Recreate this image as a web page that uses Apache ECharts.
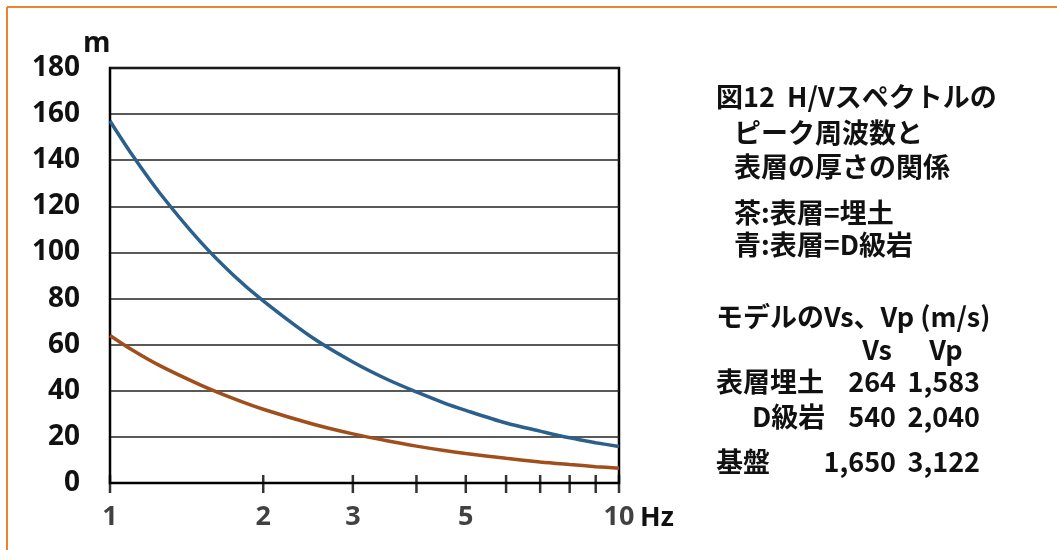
<!DOCTYPE html>
<html>
<head>
<meta charset="utf-8">
<script src="https://cdn.jsdelivr.net/npm/echarts@6/dist/echarts.min.js"></script>
<style>
  html, body { margin: 0; padding: 0; background: #fff; }
  #chart { width: 1057px; height: 550px; }
</style>
</head>
<body>
<div id="chart"></div>
<script>
// Peak frequency (Hz) vs. surface-layer thickness (m)
const freqs      = [1, 1.1, 1.25, 1.5, 1.75, 2, 2.5, 3, 3.5, 4, 4.5, 5, 6, 7, 8, 9, 10];
const dClassRock = [157, 143, 126, 105, 90, 79, 63, 52.5, 45, 39.5, 35, 31.5, 26, 22.5, 19.6, 17.5, 15.8]; // blue
const fillSoil   = [64, 58, 51, 42.7, 36.6, 32, 25.6, 21.3, 18.3, 16, 14.2, 12.8, 10.7, 9.1, 8, 7.1, 6.4]; // brown

const tickFreqs  = [1, 2, 3, 4, 5, 6, 7, 8, 9, 10];
const tickLabels = ['1', '2', '3', '', '5', '', '', '', '', '10'];
const yTicks     = [0, 20, 40, 60, 80, 100, 120, 140, 160, 180];

const velRows = [
  ['表層埋土', '264', '1,583'],
  ['D級岩', '540', '2,040'],
  ['基盤', '1,650', '3,122']
];

const NUM_FONT = '"Open Sans", "Noto Sans", sans-serif';
const JP_FONT = '"Noto Sans CJK JP", sans-serif';

const chart = echarts.init(document.getElementById('chart'));

const pairs = (ys) => freqs.map((f, i) => [f, ys[i]]);

const textEl = (text, x, y, opts = {}) => ({
  type: 'text',
  x: x, y: y,
  style: Object.assign({
    text: text,
    font: 'bold 27px ' + JP_FONT,
    fill: '#111',
    textAlign: 'left',
    textVerticalAlign: 'middle'
  }, opts)
});

const graphics = [
  // frame lines
  { type: 'line', shape: { x1: 7, y1: 7, x2: 1057, y2: 7 }, style: { stroke: '#f0822e', lineWidth: 2 } },
  { type: 'line', shape: { x1: 7, y1: 7, x2: 7, y2: 550 }, style: { stroke: '#f0822e', lineWidth: 2 } },
  textEl('m', 83, 44, { font: 'bold 28px ' + NUM_FONT }),
  textEl('Hz', 640, 518, { font: 'bold 27px ' + NUM_FONT }),
  textEl('図12  H/Vスペクトルの', 716, 97),
  textEl('ピーク周波数と', 734, 133),
  textEl('表層の厚さの関係', 734, 167),
  textEl('茶:表層=埋土', 734, 213),
  textEl('青:表層=D級岩', 734, 245),
  textEl('モデルのVs、Vp (m/s)', 716, 317),
  textEl('Vs', 877, 350, { textAlign: 'center' }),
  textEl('Vp', 946, 350, { textAlign: 'center' })
];
const rowY = [382, 417, 462];
velRows.forEach((r, i) => {
  graphics.push(textEl(r[0], i === 1 ? 752 : 716, rowY[i]));
  graphics.push(textEl(r[1], 896, rowY[i], { textAlign: 'right' }));
  graphics.push(textEl(r[2], 980, rowY[i], { textAlign: 'right' }));
});

chart.setOption({
  animation: false,
  backgroundColor: '#fff',
  grid: {
    left: 110, top: 68, right: 438, bottom: 67,
    show: true, borderColor: '#000', borderWidth: 2.5, backgroundColor: 'transparent'
  },
  xAxis: {
    type: 'log', logBase: 10, min: 1, max: 10,
    axisLine: { show: true, onZero: false, lineStyle: { color: '#000', width: 2 } },
    axisTick: { show: false },
    axisLabel: { show: false },
    splitLine: { show: false },
    minorTick: { show: false },
    minorSplitLine: { show: false }
  },
  yAxis: {
    type: 'value', min: 0, max: 180, interval: 20,
    axisLine: { show: true, lineStyle: { color: '#000', width: 2 } },
    axisTick: { show: false },
    axisLabel: {
      margin: 30,
      color: '#111',
      fontFamily: NUM_FONT,
      fontWeight: 'bold',
      fontSize: 28,
      formatter: (v) => yTicks.includes(v) ? String(v) : ''
    },
    splitLine: { show: true, lineStyle: { color: '#222', width: 1.5 } }
  },
  series: [
    {
      name: 'D級岩',
      type: 'line',
      data: pairs(dClassRock),
      smooth: 0.3,
      showSymbol: false,
      lineStyle: { color: '#2b5f8c', width: 3.5 },
      z: 3
    },
    {
      name: '埋土',
      type: 'line',
      data: pairs(fillSoil),
      smooth: 0.3,
      showSymbol: false,
      lineStyle: { color: '#a04f1c', width: 3.5 },
      z: 3
    },
    {
      // cross-shaped tick marks and frequency labels along the x axis
      type: 'scatter',
      data: tickFreqs.map((f) => [f, 0]),
      symbol: 'rect',
      symbolSize: [2.5, 18],
      symbolOffset: [0, 1],
      itemStyle: { color: '#000' },
      clip: false,
      silent: true,
      z: 4,
      label: {
        show: true,
        position: 'bottom',
        distance: 11,
        color: '#111',
        fontFamily: NUM_FONT,
        fontWeight: 'bold',
        fontSize: 27,
        formatter: (p) => tickLabels[p.dataIndex]
      }
    }
  ],
  graphic: graphics
});
</script>
</body>
</html>
